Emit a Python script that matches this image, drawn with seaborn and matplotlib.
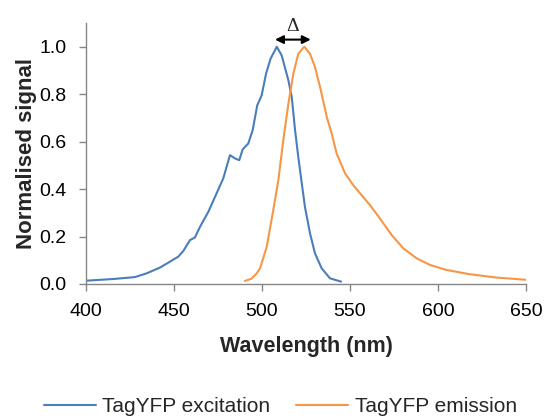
import numpy as np
import pandas as pd
import matplotlib
matplotlib.use("Agg")
import matplotlib.pyplot as plt
import seaborn as sns
from matplotlib.lines import Line2D

exc_wl = [400.4, 415.5, 427.8, 434.5, 442, 447.7, 452.4, 455.3, 459.1, 461.9, 464.8, 469.5,
          473.3, 478, 481.8, 484.7, 487.1, 489, 492.2, 494.7, 497.3, 499.8, 502.3, 504.9,
          506.8, 508.4, 511.2, 515, 516.9, 518.8, 520.6, 522.6, 524.4, 527.3, 530.1, 533.9,
          538.6, 544.9]
exc_val = [0.014, 0.021, 0.029, 0.045, 0.069, 0.094, 0.115, 0.139, 0.185, 0.196, 0.241, 0.304,
           0.367, 0.445, 0.543, 0.529, 0.522, 0.567, 0.592, 0.648, 0.753, 0.795, 0.886, 0.95,
           0.977, 1.0, 0.963, 0.858, 0.788, 0.648, 0.536, 0.424, 0.325, 0.213, 0.129, 0.066,
           0.024, 0.01]
em_wl = [490.3, 494, 497, 498.9, 502.7, 506.4, 509.3, 512.1, 515, 517.8, 520.6, 524, 527.3,
         530.1, 533, 536.8, 539.6, 542.4, 547.2, 551.9, 555.7, 561.4, 567, 573.7, 580.3,
         587.9, 595.5, 604.9, 618.2, 633.3, 651.3]
em_val = [0.013, 0.022, 0.045, 0.066, 0.157, 0.311, 0.438, 0.606, 0.760, 0.886, 0.970, 1.0, 0.970,
          0.914, 0.83, 0.704, 0.634, 0.55, 0.466, 0.416, 0.382, 0.332, 0.276, 0.206, 0.15,
          0.108, 0.08, 0.059, 0.041, 0.027, 0.017]
series_names = ["TagYFP excitation", "TagYFP emission"]
colors = ["#4a7ebb", "#f79646"]
x_ticks = [400, 450, 500, 550, 600, 650]
y_ticks = [0.0, 0.2, 0.4, 0.6, 0.8, 1.0]

df = pd.concat([
    pd.DataFrame({"wl": exc_wl, "val": exc_val, "series": series_names[0]}),
    pd.DataFrame({"wl": em_wl, "val": em_val, "series": series_names[1]}),
], ignore_index=True)

sns.set_style("white")
plt.rcParams["font.family"] = ["Liberation Sans", "DejaVu Sans"]

fig = plt.figure(figsize=(5.44, 4.18), dpi=100)
ax = fig.add_axes([0.158, 0.3206, 0.809, 0.6244])
sns.lineplot(data=df, x="wl", y="val", hue="series", palette=colors, sort=False,
             linewidth=1.5, ax=ax, legend=False)

ax.set_xlim(400, 650)
ax.set_ylim(0, 1.1)
ax.set_xticks(x_ticks)
ax.set_yticks(y_ticks)
ax.set_xticklabels([str(t) for t in x_ticks], fontsize=14)
ax.set_yticklabels([f"{t:.1f}" for t in y_ticks], fontsize=14)
ax.set_xlabel("Wavelength (nm)", fontsize=15.5, fontweight="bold")
ax.set_ylabel("Normalised signal", fontsize=16, fontweight="bold")
ax.xaxis.set_label_coords(0.5, -0.198)
ax.yaxis.set_label_coords(-0.112, 0.5)
for s in ["top", "right"]:
    ax.spines[s].set_visible(False)
for s in ["left", "bottom"]:
    ax.spines[s].set_color("#868686")
    ax.spines[s].set_linewidth(1.0)
ax.tick_params(axis="both", direction="out", length=5, color="#868686", width=1.0,
               left=True, bottom=True, labelcolor="black")
ax.tick_params(axis="x", pad=9)
ax.tick_params(axis="y", pad=9)

ax.annotate("", xy=(507.4, 1.03), xytext=(527.7, 1.03),
            arrowprops=dict(arrowstyle="<|-|>", color="black", lw=1.5,
                            mutation_scale=12, shrinkA=0, shrinkB=0))
ax.text(517.2, 1.085, "Δ", ha="center", va="center", fontsize=14,
        family=["Liberation Serif", "DejaVu Serif"], clip_on=False)

handles = [Line2D([0], [0], color=c, lw=1.5) for c in colors]
fig.legend(handles, series_names, loc="center", bbox_to_anchor=(0.515, 0.027), ncol=2,
           frameon=False, fontsize=15, handlelength=2.5, columnspacing=1.25, handletextpad=0.3)

fig.savefig("out.png", dpi=100)
